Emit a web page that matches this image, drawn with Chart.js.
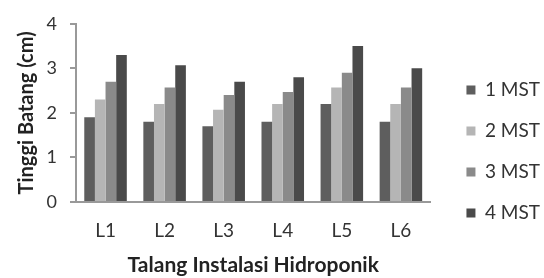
<!DOCTYPE html>
<html><head><meta charset="utf-8">
<script src="https://cdn.jsdelivr.net/npm/chart.js@4/dist/chart.umd.min.js"></script>
<style>html,body{margin:0;padding:0;background:#fff}#wrap{width:544px;height:278px}</style>
</head><body><div id="wrap"><canvas id="c" width="544" height="278"></canvas></div>
<script>
const categories = ["L1","L2","L3","L4","L5","L6"];
const seriesNames = ["1 MST","2 MST","3 MST","4 MST"];
const mst1 = [1.9, 1.8, 1.7, 1.8, 2.2, 1.8];
const mst2 = [2.3, 2.2, 2.07, 2.2, 2.57, 2.2];
const mst3 = [2.7, 2.57, 2.4, 2.47, 2.9, 2.57];
const mst4 = [3.3, 3.07, 2.7, 2.8, 3.5, 3.0];
const yTicks = [0,1,2,3,4];
const colors = ["#5e5e5e","#b5b5b5","#8a8a8a","#4a4a4a"];
const values = [mst1, mst2, mst3, mst4];
const font = "Lato, 'Open Sans', sans-serif";
const shiftLegend = {
  id: 'shiftLegend',
  afterLayout(chart) {
    const l = chart.legend;
    if (!l) return;
    l.left += 14; l.right += 14;
    l.top += 4; l.bottom += 4;
  }
};
new Chart(document.getElementById('c'), {
  type: 'bar',
  data: {
    labels: categories,
    datasets: values.map((v,i)=>({label: seriesNames[i], data: v, backgroundColor: colors[i], borderWidth: 0}))
  },
  plugins: [shiftLegend],
  options: {
    responsive: false, animation: false,
    categoryPercentage: 0.72, barPercentage: 1.0,
    layout: {padding: {top: 17, right: 8, bottom: 0, left: 0}},
    plugins: {
      tooltip: {enabled: false},
      legend: {position: 'right', align: 'center',
        labels: {boxWidth: 9, boxHeight: 9, padding: 22, color: '#333', font: {family: font, size: 19}}}
    },
    scales: {
      x: {
        afterFit: (s) => { s.height = 76; },
        grid: {display: false, drawTicks: false},
        border: {color: '#999', width: 2},
        ticks: {color: '#333', font: {family: font, size: 19}, padding: 17},
        title: {display: true, text: 'Talang Instalasi Hidroponik', color: '#222', font: {family: font, size: 21, weight: 'bold'}, padding: {top: 0, bottom: 0}}
      },
      y: {
        min: 0, max: 4,
        afterFit: (s) => { s.width = 76; },
        afterBuildTicks: (s) => { s.ticks = yTicks.map(v=>({value: v})); },
        grid: {display: true, drawOnChartArea: false, tickLength: 6, color: '#999', lineWidth: 2},
        border: {color: '#999', width: 2},
        ticks: {color: '#333', font: {family: font, size: 18}, padding: 13},
        title: {display: true, text: 'Tinggi Batang (cm)', color: '#222', font: {family: font, size: 20, weight: 'bold'}, padding: {top: 15, bottom: 0}}
      }
    }
  }
});
</script></body></html>
